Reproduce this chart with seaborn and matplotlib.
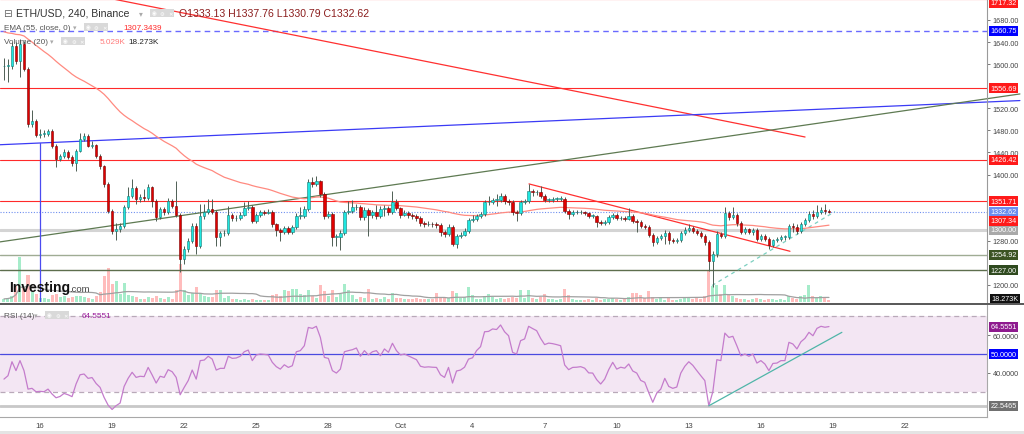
import numpy as np
import pandas as pd
import matplotlib
matplotlib.use("Agg")
import matplotlib.pyplot as plt
import matplotlib.dates as mdates
from matplotlib.lines import Line2D
from matplotlib.patches import Rectangle
import seaborn as sns

# ---------------- data (ETH/USD 4h candles) ----------------
first_candle = "2022-09-14 12:00"
first_open = 1596.0
last_open = 1333.13

closes = [
    1597, 1597, 1633, 1606, 1636, 1591, 1492, 1497, 1472, 1474,
    1474, 1479, 1452, 1428, 1434, 1441, 1432, 1421, 1443, 1464,
    1470, 1452, 1454, 1434, 1416, 1383, 1334, 1298, 1301, 1307,
    1341, 1361, 1376, 1356, 1359, 1358, 1378, 1352, 1323, 1338,
    1332, 1352, 1343, 1327, 1247, 1265, 1280, 1307, 1271, 1325,
    1332, 1338, 1332, 1287, 1294, 1294, 1327, 1321, 1321, 1327,
    1339, 1341, 1316, 1327, 1332, 1331, 1332, 1310, 1300, 1296,
    1303, 1296, 1305, 1325, 1325, 1338, 1387, 1383, 1388, 1365,
    1325, 1329, 1287, 1287, 1294, 1332, 1334, 1341, 1341, 1323,
    1336, 1327, 1332, 1325, 1338, 1339, 1332, 1350, 1339, 1327,
    1330, 1327, 1325, 1321, 1312, 1310, 1311, 1310, 1309, 1296,
    1292, 1305, 1274, 1289, 1291, 1298, 1318, 1320, 1325, 1329,
    1350, 1350, 1354, 1354, 1361, 1352, 1350, 1332, 1330, 1350,
    1352, 1370, 1368, 1368, 1361, 1354, 1354, 1356, 1356, 1356,
    1334, 1329, 1332, 1332, 1332, 1330, 1325, 1325, 1314, 1312,
    1314, 1323, 1327, 1321, 1321, 1320, 1325, 1316, 1314, 1307,
    1305, 1291, 1278, 1285, 1289, 1294, 1281, 1280, 1281, 1294,
    1300, 1303, 1298, 1294, 1289, 1278, 1243, 1256, 1292, 1289,
    1330, 1323, 1327, 1312, 1296, 1301, 1296, 1300, 1283, 1289,
    1283, 1272, 1281, 1283, 1287, 1287, 1307, 1305, 1298, 1310,
    1318, 1329, 1325, 1332, 1336, 1334, 1332.62,
]
highs = [
    1612, 1609, 1640, 1640, 1645, 1642, 1595, 1517, 1500, 1483,
    1480, 1482, 1482, 1455, 1438, 1447, 1444, 1435, 1446, 1475,
    1475, 1473, 1460, 1456, 1437, 1418, 1386, 1338, 1312, 1312,
    1345, 1377, 1392, 1379, 1364, 1374, 1383, 1380, 1355, 1342,
    1341, 1358, 1356, 1388, 1330, 1270, 1285, 1312, 1312, 1346,
    1346, 1356, 1356, 1335, 1298, 1300, 1343, 1330, 1326, 1332,
    1350, 1352, 1344, 1330, 1336, 1336, 1337, 1335, 1313, 1303,
    1307, 1306, 1309, 1330, 1341, 1343, 1392, 1395, 1397, 1390,
    1368, 1334, 1332, 1292, 1299, 1336, 1352, 1354, 1346, 1345,
    1341, 1339, 1336, 1345, 1343, 1344, 1343, 1370, 1356, 1342,
    1335, 1334, 1330, 1328, 1324, 1316, 1315, 1314, 1314, 1312,
    1299, 1310, 1308, 1292, 1296, 1303, 1322, 1327, 1329, 1333,
    1354, 1361, 1358, 1365, 1367, 1364, 1355, 1353, 1336, 1354,
    1356, 1383, 1374, 1372, 1379, 1364, 1358, 1360, 1360, 1361,
    1359, 1337, 1336, 1336, 1336, 1334, 1333, 1329, 1327, 1318,
    1318, 1327, 1331, 1330, 1325, 1325, 1340, 1328, 1320, 1318,
    1311, 1309, 1294, 1289, 1293, 1300, 1297, 1285, 1285, 1298,
    1305, 1310, 1307, 1301, 1297, 1292, 1281, 1262, 1298, 1296,
    1341, 1334, 1341, 1331, 1315, 1305, 1304, 1304, 1303, 1293,
    1292, 1286, 1284, 1286, 1291, 1291, 1311, 1313, 1310, 1314,
    1322, 1334, 1336, 1345, 1341, 1346, 1337.76,
]
lows = [
    1571, 1568, 1591, 1600, 1577, 1587, 1486, 1486, 1468, 1466,
    1468, 1470, 1448, 1413, 1424, 1430, 1428, 1416, 1407, 1440,
    1461, 1449, 1448, 1430, 1410, 1378, 1330, 1292, 1281, 1296,
    1303, 1337, 1357, 1347, 1350, 1352, 1354, 1341, 1316, 1320,
    1327, 1329, 1339, 1323, 1223, 1238, 1260, 1276, 1256, 1267,
    1320, 1328, 1328, 1270, 1270, 1289, 1290, 1316, 1316, 1318,
    1324, 1336, 1312, 1312, 1323, 1327, 1328, 1305, 1289, 1280,
    1292, 1292, 1293, 1301, 1320, 1322, 1334, 1378, 1380, 1360,
    1320, 1321, 1270, 1270, 1263, 1290, 1328, 1330, 1336, 1318,
    1318, 1288, 1322, 1320, 1321, 1325, 1327, 1329, 1335, 1322,
    1324, 1322, 1320, 1316, 1307, 1305, 1306, 1305, 1304, 1288,
    1287, 1289, 1270, 1267, 1285, 1288, 1295, 1314, 1316, 1321,
    1325, 1345, 1346, 1343, 1350, 1347, 1345, 1327, 1316, 1326,
    1347, 1348, 1362, 1363, 1357, 1350, 1350, 1351, 1352, 1352,
    1330, 1320, 1325, 1328, 1328, 1326, 1321, 1321, 1305, 1308,
    1309, 1310, 1319, 1317, 1317, 1315, 1317, 1312, 1296, 1303,
    1301, 1287, 1270, 1274, 1281, 1274, 1275, 1276, 1276, 1278,
    1290, 1296, 1294, 1290, 1285, 1272, 1225, 1196, 1250, 1285,
    1285, 1318, 1320, 1307, 1292, 1292, 1292, 1291, 1279, 1280,
    1279, 1265, 1268, 1277, 1280, 1282, 1283, 1296, 1292, 1295,
    1306, 1314, 1320, 1322, 1328, 1329, 1330.79,
]
volumes_k = [
    8, 10, 16, 42, 117, 36, 70, 26, 21, 10,
    10, 8, 18, 21, 13, 16, 10, 13, 16, 16,
    13, 10, 8, 16, 26, 68, 88, 47, 55, 21,
    49, 18, 16, 13, 8, 8, 13, 10, 16, 10,
    8, 13, 8, 31, 99, 31, 18, 23, 39, 23,
    16, 13, 13, 31, 31, 10, 16, 8, 8, 5,
    8, 5, 8, 5, 5, 5, 5, 18, 21, 16,
    31, 29, 34, 34, 21, 18, 31, 16, 10, 44,
    29, 16, 31, 13, 21, 47, 31, 18, 8, 13,
    10, 34, 8, 10, 8, 13, 8, 23, 10, 10,
    8, 8, 8, 10, 8, 8, 8, 8, 23, 13,
    10, 10, 29, 23, 10, 13, 39, 18, 8, 8,
    16, 21, 13, 8, 10, 8, 10, 13, 10, 31,
    10, 31, 10, 8, 13, 21, 8, 8, 5, 8,
    34, 18, 8, 5, 5, 5, 8, 5, 10, 5,
    8, 8, 10, 8, 5, 8, 13, 23, 23, 18,
    10, 29, 13, 8, 10, 5, 10, 5, 5, 8,
    13, 10, 8, 10, 8, 16, 83, 42, 44, 21,
    44, 18, 16, 10, 8, 8, 5, 8, 10, 8,
    5, 8, 8, 5, 8, 5, 16, 10, 8, 16,
    18, 44, 16, 10, 16, 13, 5.029,
]
rsi_values = [
    36.7, 38.5, 45.9, 41.2, 46.5, 41.2, 31.4, 31.8, 30.0, 30.2,
    30.0, 31.4, 28.8, 26.8, 27.5, 29.1, 28.4, 27.4, 34.1, 39.0,
    39.4, 37.1, 37.5, 34.4, 32.3, 27.0, 22.9, 20.6, 22.6, 24.0,
    32.8, 37.1, 40.3, 37.6, 38.2, 38.0, 42.9, 38.9, 34.6, 38.2,
    37.6, 41.7, 40.6, 37.6, 28.4, 32.3, 35.9, 41.5, 36.7, 46.5,
    46.8, 48.8, 47.3, 41.5, 42.4, 42.4, 48.8, 47.7, 47.9, 48.8,
    51.2, 52.1, 46.5, 49.5, 50.0, 49.8, 49.5, 45.6, 43.3, 42.0,
    44.3, 42.9, 43.8, 51.2, 51.8, 54.4, 64.1, 63.6, 64.7, 58.8,
    48.2, 47.7, 41.2, 39.9, 42.0, 51.2, 51.8, 52.3, 53.2, 48.8,
    51.8, 49.5, 51.2, 51.8, 49.1, 52.7, 50.9, 55.7, 51.8, 49.5,
    50.0, 49.0, 48.0, 47.0, 43.5, 43.0, 43.2, 43.0, 42.9, 39.0,
    37.6, 42.9, 34.6, 41.0, 41.5, 43.0, 47.3, 48.0, 51.8, 53.9,
    61.8, 62.0, 63.3, 63.0, 65.4, 61.8, 59.7, 50.9, 50.0, 57.1,
    58.0, 64.7, 63.5, 62.4, 58.3, 55.0, 55.8, 55.5, 55.0, 54.4,
    44.2, 41.7, 42.9, 43.0, 43.3, 42.5, 40.0, 39.9, 36.4, 34.1,
    36.7, 41.7, 45.6, 42.0, 43.0, 42.5, 44.7, 41.0, 39.9, 36.0,
    35.0, 29.5, 24.4, 29.3, 31.4, 37.1, 32.8, 31.8, 32.5, 39.9,
    43.5, 45.9, 44.0, 41.2, 38.5, 35.9, 22.5465, 30.0, 47.0, 46.5,
    61.1, 58.8, 59.4, 54.4, 49.0, 50.0, 48.8, 50.0, 45.2, 46.5,
    44.7, 41.2, 45.0, 45.2, 46.5, 46.5, 56.2, 55.3, 52.7, 56.5,
    58.3, 61.5, 59.7, 63.6, 64.7, 64.2, 64.5551,
]
ema_start = 1661.0          # EMA(55) value carried in from before the first visible candle

# horizontal price levels drawn on the chart
level_prices = [1717.32, 1660.75, 1556.69, 1426.42, 1351.71, 1332.62, 1300.00, 1254.92, 1227.00]
ema_label_value = 1307.34
price_ticks = [1200, 1280, 1400, 1440, 1480, 1520, 1600, 1640, 1680]
rsi_ticks = [40, 60]

# drawn trend lines (time, price)
red_trend_t = ["2022-09-19 00:55", "2022-10-17 20:07"]
red_trend_p = [1718, 1468]
blue_trend_t = ["2022-09-14 08:02", "2022-10-26 18:42"]
blue_trend_p = [1454, 1534]
green_trend_t = ["2022-09-14 08:02", "2022-10-26 18:42"]
green_trend_p = [1278, 1546]
blue_vline_t = "2022-09-16 00:00"
blue_vline_p = [1457, 1169]
red_short_t = ["2022-10-06 08:24", "2022-10-17 05:03"]
red_short_p = [1383, 1261]
teal_dash_t = ["2022-10-13 23:15", "2022-10-19 02:00"]
teal_dash_p = [1199, 1333]
rsi_trend_t = ["2022-10-13 20:00", "2022-10-19 08:53"]
rsi_trend_v = [22.5465, 61.5]

date_ticks = ["2022-09-16", "2022-09-19", "2022-09-22", "2022-09-25", "2022-09-28", "2022-10-01",
              "2022-10-04", "2022-10-07", "2022-10-10", "2022-10-13", "2022-10-16", "2022-10-19",
              "2022-10-22"]
date_labels = ["16", "19", "22", "25", "28", "Oct", "4", "7", "10", "13", "16", "19", "22"]
x_range = ["2022-09-14 08:02", "2022-10-25 09:50"]

# ---------------- derived series ----------------
n = len(closes)
assert len(highs) == n and len(lows) == n and len(volumes_k) == n and len(rsi_values) == n
times = pd.date_range(first_candle, periods=n, freq="4h")
opens = np.r_[first_open, np.array(closes[:-1], float)]
opens[-1] = last_open
df = pd.DataFrame({"time": times, "open": opens, "high": highs, "low": lows,
                   "close": closes, "volume": volumes_k, "rsi": rsi_values})
alpha = 2 / 56
ema, prev = [], ema_start
for c in df["close"]:
    prev = prev + alpha * (c - prev)
    ema.append(prev)
df["ema"] = ema
df["vol_ma"] = df["volume"].rolling(20, min_periods=1).mean()

t = mdates.date2num(df["time"])
def dn(s):
    return mdates.date2num(pd.to_datetime(s))

# ---------------- figure ----------------
sns.set_theme(style="white")
plt.rcParams['font.family'] = ['Liberation Sans', 'DejaVu Sans']
W, H = 1024, 435
fig = plt.figure(figsize=(W / 100, H / 100), dpi=100)
fig.patch.set_facecolor("white")

def fx(px):
    return px / W
def fy(py):
    return 1 - py / H

ax = fig.add_axes([0, fy(303), 987 / W, 303 / H])
axv = ax.twinx()
axr = fig.add_axes([0, fy(418), 987 / W, (418 - 306) / H])

ax.set_zorder(axv.get_zorder() + 1)
ax.patch.set_visible(False)

xlim = (dn(x_range[0]), dn(x_range[1]))
for a in (ax, axv, axr):
    a.set_xlim(*xlim)
ax.set_ylim(1169.1, 1718.0)
axv.set_ylim(0, 303 * 2.6)
axr.set_ylim(16.6, 76.0)

# ---- volume ----
up = (df["close"] >= df["open"]).values
wv = 4 / 24 * 0.75
axv.bar(t[up], df["volume"][up], width=wv, color="#a6ecca", edgecolor="none", zorder=1)
axv.bar(t[~up], df["volume"][~up], width=wv, color="#ffbcbc", edgecolor="none", zorder=1)
sns.lineplot(x=t, y=df["vol_ma"].values, ax=axv, color="#a0a0a0", lw=0.9, legend=False, zorder=2)
axv.set_yticks([])
axv.set_ylabel("")
for s in axv.spines.values():
    s.set_visible(False)

# ---- horizontal levels ----
lvl_styles = [
    dict(color="#ff2020", lw=0.8, ls="-"),
    dict(color="#6a6aff", lw=1.0, ls=(0, (4, 3))),
    dict(color="#ff2a2a", lw=0.8, ls="-"),
    dict(color="#ff2a2a", lw=0.8, ls="-"),
    dict(color="#ff2a2a", lw=0.8, ls="-"),
    dict(color="#6f8ff0", lw=0.8, ls=(0, (1, 1.5))),
    dict(color="#d4d4d4", lw=2.2, ls="-"),
    dict(color="#9fac94", lw=1.0, ls="-"),
    dict(color="#5d6e4d", lw=1.0, ls="-"),
]
for p, st in zip(level_prices, lvl_styles):
    ax.axhline(p, zorder=1.5, **st)

# ---- trend lines ----
ax.plot([dn(s) for s in red_trend_t], red_trend_p, color="#ff3030", lw=0.9, zorder=2)
ax.plot([dn(s) for s in blue_trend_t], blue_trend_p, color="#3b3bf5", lw=0.9, zorder=2, clip_on=False)
ax.plot([dn(s) for s in green_trend_t], green_trend_p, color="#5e7a52", lw=0.9, zorder=2, clip_on=False)
ax.plot([dn(blue_vline_t)] * 2, blue_vline_p, color="#4b4bf0", lw=0.9, zorder=2)
ax.plot([dn(s) for s in red_short_t], red_short_p, color="#ff3030", lw=0.9, zorder=2)
ax.plot([dn(s) for s in teal_dash_t], teal_dash_p, color="#7ccfc0", lw=0.9, ls=(0, (3, 3)), zorder=2)

# ---- EMA ----
sns.lineplot(x=t, y=df["ema"].values, ax=ax, color="#ff8a80", lw=0.9, legend=False, zorder=2.5)

# ---- candles ----
w = 4 / 24 * 0.62
body_lo = np.minimum(df["open"], df["close"]).values
body_h = np.maximum(np.abs(df["close"] - df["open"]).values, 0.9)
ax.vlines(t, df["low"], df["high"], color="#4e5e54", lw=0.7, zorder=3)
ax.bar(t[up], body_h[up], bottom=body_lo[up], width=w, color="#1fe6e0",
       edgecolor="#167a74", lw=0.4, zorder=4)
ax.bar(t[~up], body_h[~up], bottom=body_lo[~up], width=w, color="#e00000",
       edgecolor="#7a0000", lw=0.4, zorder=4)

# ---- main axis styling ----
ax.set_xticks([])
ax.yaxis.tick_right()
ax.set_yticks(price_ticks)
ax.yaxis.set_major_formatter(matplotlib.ticker.FormatStrFormatter("%.2f"))
ax.tick_params(axis="y", labelsize=5.2, colors="#444444", length=2.5, width=0.5, pad=1.5)
for k, s in ax.spines.items():
    s.set_visible(k == "right")
ax.spines["right"].set_color("#9a9a9a")
ax.spines["right"].set_linewidth(0.8)
ax.set_xlabel("")
ax.set_ylabel("")

def price_tag(a, y, text, fc, dy=0.0, tc="white"):
    a.annotate(text, xy=(1.0, y), xycoords=("axes fraction", "data"),
               xytext=(2.4, dy), textcoords="offset points", ha="left", va="center",
               fontsize=5.2, color=tc, zorder=10, annotation_clip=False,
               bbox=dict(boxstyle="square,pad=0.2", fc=fc, ec="none"))

tag_colors = ["#ff1a1a", "#0000ff", "#ff1a1a", "#ff1a1a", "#ff1a1a", "#6a8df0", "#a9a9a9", "#3b5323", "#2f4a1f"]
tag_shift = [-2.6, 0, 0, 0, 0, 0, 0, 0, 0]
for p, c, d in zip(level_prices, tag_colors, tag_shift):
    price_tag(ax, p, f"{p:.2f}", c, dy=d)
price_tag(ax, ema_label_value, f"{ema_label_value:.2f}", "#ff1a1a", dy=3.4)
fig.text(fx(991), fy(299.5), "18.273K", fontsize=5.2, color="white", va="center", ha="left",
         bbox=dict(boxstyle="square,pad=0.2", fc="#111111", ec="none"))

# ---- RSI panel ----
axr.axhspan(30, 70, color="#f3e6f3", zorder=0, lw=0)
axr.axhline(70, color="#b9a9b9", lw=0.9, ls=(0, (4, 3)), zorder=1)
axr.axhline(30, color="#b9a9b9", lw=0.9, ls=(0, (4, 3)), zorder=1)
axr.axhline(50, color="#4a4ae0", lw=0.9, zorder=1)
axr.axhline(22.5465, color="#c8c8c8", lw=2.0, zorder=1)
sns.lineplot(x=t, y=df["rsi"].values, ax=axr, color="#c47ccc", lw=0.9, legend=False, zorder=3)
axr.plot([dn(s) for s in rsi_trend_t], rsi_trend_v, color="#4fb5a8", lw=0.9, zorder=4)
axr.yaxis.tick_right()
axr.set_yticks(rsi_ticks)
axr.yaxis.set_major_formatter(matplotlib.ticker.FormatStrFormatter("%.4f"))
axr.tick_params(axis="y", labelsize=5.2, colors="#444444", length=2.5, width=0.5, pad=1.5)
axr.set_xticks([dn(d) for d in date_ticks])
axr.set_xticklabels(date_labels)
axr.tick_params(axis="x", labelsize=5.6, colors="#444444", length=0, pad=3.5)
for k, s in axr.spines.items():
    s.set_visible(k in ("right", "bottom"))
    s.set_color("#a8a8a8")
    s.set_linewidth(0.8)
axr.set_xlabel("")
axr.set_ylabel("")
price_tag(axr, 64.5551, "64.5551", "#8e1a8e")
price_tag(axr, 50.0, "50.0000", "#0000ff")
price_tag(axr, 22.5465, "22.5465", "#707070")

# ---- separators ----
fig.add_artist(Line2D([0, 1], [fy(304.5)] * 2, color="#4a4a4a", lw=1.3))
fig.add_artist(Rectangle((0, 0), 1, 3 / H, transform=fig.transFigure, color="#e4e4e4", lw=0))

# ---- legend texts ----
def icons(x0, y, step=8.0, size=3.9):
    for i, sym in enumerate(["\u25c9", "\u2699", "\u2715"]):
        fig.text(fx(x0 + i * step), fy(y), sym, fontsize=size, color="white", va="center", ha="left",
                 family=["DejaVu Sans"],
                 bbox=dict(boxstyle="square,pad=0.28", fc="#d9d9d9", ec="none"))

fig.text(fx(3), fy(14), "\u229f", fontsize=7.5, color="#666666", va="center", family=["DejaVu Sans"])
fig.text(fx(16), fy(14), "ETH/USD, 240, Binance", fontsize=7.6, color="#333333", va="center")
fig.text(fx(139), fy(14), "\u25be", fontsize=5.5, color="#aaaaaa", va="center", family=["DejaVu Sans"])
icons(152, 14)
fig.text(fx(179), fy(14), "O1333.13 H1337.76 L1330.79 C1332.62", fontsize=7.6, color="#8b1d1d", va="center")

fig.text(fx(4), fy(28), "EMA (55, close, 0)", fontsize=5.9, color="#555555", va="center")
fig.text(fx(73), fy(28), "\u25be", fontsize=5, color="#aaaaaa", va="center", family=["DejaVu Sans"])
icons(86, 28)
fig.text(fx(123), fy(28), "1307.3439", fontsize=5.9, color="#ff2a2a", va="center")

fig.text(fx(4), fy(42), "Volume (20)", fontsize=5.9, color="#555555", va="center")
fig.text(fx(50), fy(42), "\u25be", fontsize=5, color="#aaaaaa", va="center", family=["DejaVu Sans"])
icons(63, 42)
fig.text(fx(100), fy(42), "5.029K", fontsize=5.9, color="#ff7b7b", va="center")
fig.text(fx(128), fy(42), "18.273K", fontsize=5.9, color="#222222", va="center")

fig.text(fx(4), fy(316), "RSI (14)", fontsize=5.9, color="#555555", va="center")
fig.text(fx(34), fy(316), "\u25be", fontsize=5, color="#aaaaaa", va="center", family=["DejaVu Sans"])
icons(47, 316)
fig.text(fx(82), fy(316), "64.5551", fontsize=5.9, color="#9b1f9b", va="center")

fig.text(fx(9), fy(288), "Investing", fontsize=10, fontweight="bold", color="#111111", va="center")
fig.text(fx(69), fy(289.5), ".com", fontsize=6.8, color="#444444", va="center")

fig.savefig("out.png", dpi=100, facecolor="white")
